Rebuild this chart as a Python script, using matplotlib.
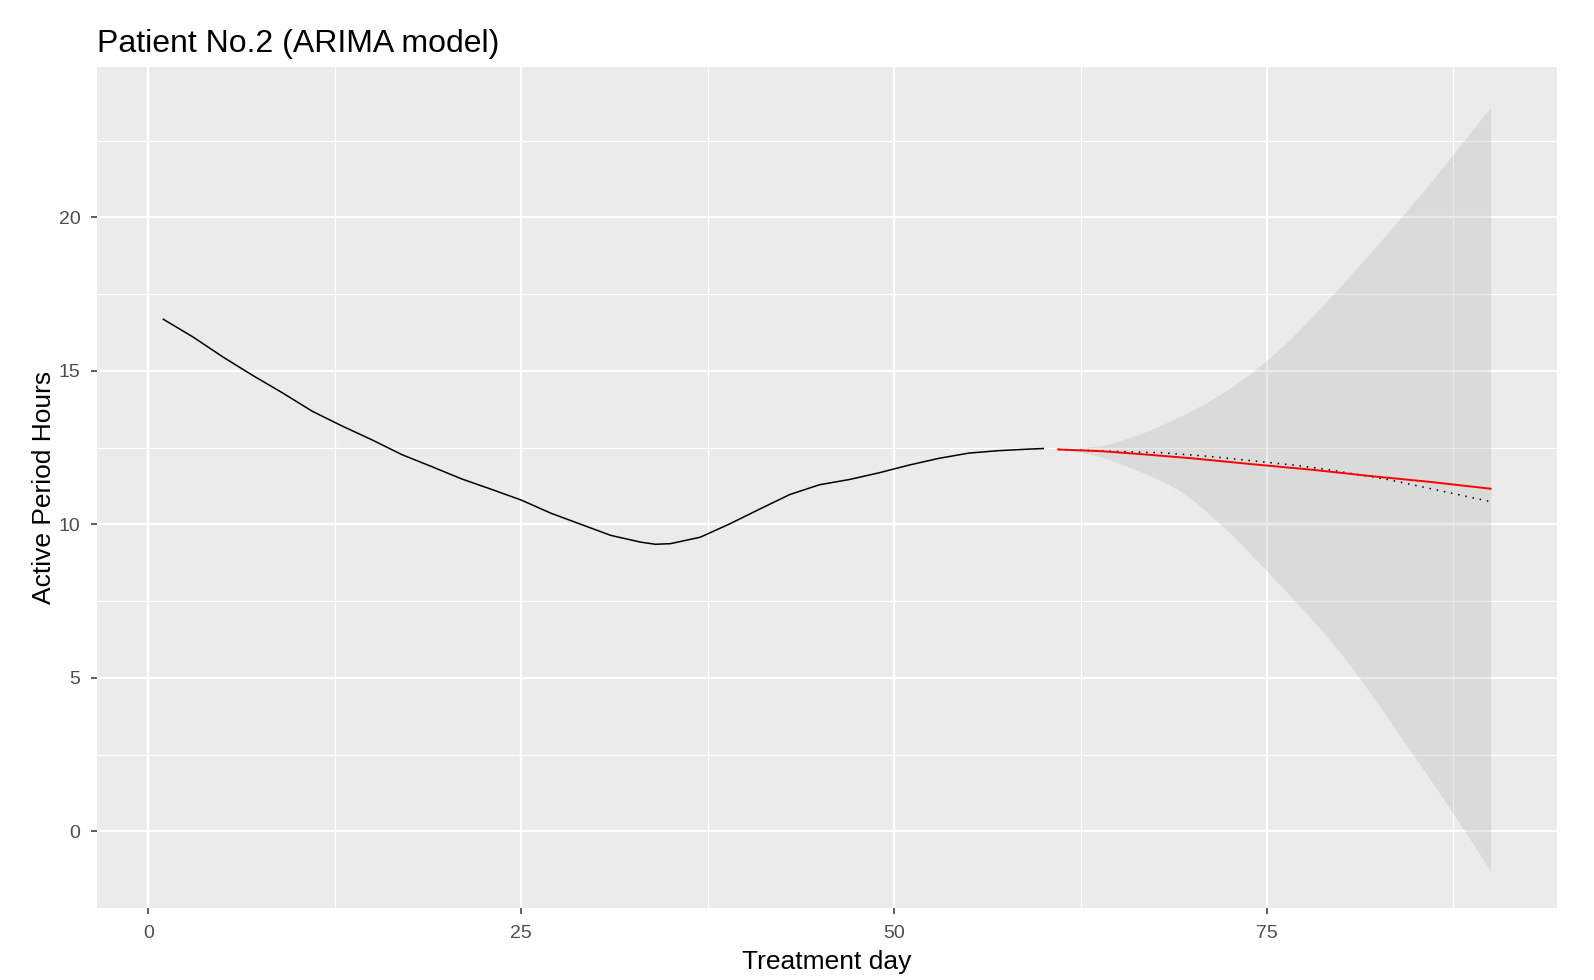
import matplotlib.pyplot as plt
import numpy as np

plt.rcParams['font.family'] = ['Liberation Sans', 'DejaVu Sans']

# observed (smoothed) series, day -> active period hours
obs_day = [1, 3, 5, 7, 9, 11, 13, 15, 17, 19, 21, 23, 25, 27, 29, 31, 33, 34, 35,
           37, 39, 41, 43, 45, 47, 49, 51, 53, 55, 57, 59, 60]
obs_val = [16.68, 16.10, 15.45, 14.85, 14.28, 13.68, 13.20, 12.75, 12.27, 11.88, 11.48,
           11.14, 10.79, 10.36, 10.00, 9.64, 9.42, 9.35, 9.37, 9.58, 10.02, 10.50, 10.97,
           11.29, 11.46, 11.68, 11.93, 12.15, 12.32, 12.40, 12.45, 12.47]

# ARIMA forecast
fc_day = [61, 64, 67, 70, 74, 78, 82, 86, 90]
fc_val = [12.44, 12.38, 12.27, 12.15, 11.96, 11.78, 11.57, 11.38, 11.16]

# dotted reference line
ref_day = [61, 64, 68, 71, 74, 77, 79, 83, 86, 90]
ref_val = [12.44, 12.39, 12.33, 12.22, 12.07, 11.92, 11.79, 11.47, 11.16, 10.74]

# forecast interval
ci_day = list(range(61, 91))
ci_lo = [12.44, 12.38, 12.30, 12.18, 12.00, 11.82, 11.62, 11.40, 11.14, 10.80,
         10.38, 9.95, 9.48, 8.98, 8.48, 7.96, 7.44, 6.90, 6.36, 5.76,
         5.13, 4.45, 3.76, 3.06, 2.35, 1.65, 0.93, 0.20, -0.55, -1.30]
ci_hi = [12.44, 12.47, 12.52, 12.57, 12.70, 12.86, 13.04, 13.25, 13.48, 13.72,
         13.98, 14.27, 14.60, 14.96, 15.35, 15.78, 16.25, 16.75, 17.27, 17.80,
         18.34, 18.89, 19.44, 20.00, 20.58, 21.16, 21.76, 22.37, 22.98, 23.60]

fig = plt.figure(figsize=(15.94, 9.8), dpi=100)
ax = fig.add_axes([97 / 1594, 1 - 908 / 980, (1557 - 97) / 1594, (908 - 67) / 980])
ax.set_facecolor('#ebebeb')
for s in ax.spines.values():
    s.set_visible(False)

ax.fill_between(ci_day, ci_lo, ci_hi, color='#999999', alpha=0.2, linewidth=0, zorder=1)
ax.plot(obs_day, obs_val, color='black', lw=1.1, zorder=3)
ax.plot(ref_day, ref_val, color='black', lw=1.1, linestyle=(0, (1, 3.8)), zorder=3)
ax.plot(fc_day, fc_val, color='red', lw=1.4, zorder=4)

ax.set_xlim(-3.45, 94.45)
ax.set_ylim(-2.5, 24.9)
ax.set_xticks([0, 25, 50, 75])
ax.set_yticks([0, 5, 10, 15, 20])
ax.set_xticks([12.5, 37.5, 62.5, 87.5], minor=True)
ax.set_yticks([2.5, 7.5, 12.5, 17.5, 22.5], minor=True)
ax.set_axisbelow(True)
ax.grid(which='major', color='white', lw=1.6)
ax.grid(which='minor', color='white', lw=0.8)
ax.tick_params(which='major', length=4, width=1.1, color='#333333',
               labelcolor='#4d4d4d', labelsize=14, pad=8)
ax.tick_params(which='minor', length=0)

ax.set_xlabel('Treatment day', fontsize=19, labelpad=6)
ax.set_ylabel('Active Period Hours', fontsize=19, labelpad=2)
ax.set_title('Patient No.2 (ARIMA model)', loc='left', fontsize=23, pad=11)

fig.savefig('out.png', dpi=100)
